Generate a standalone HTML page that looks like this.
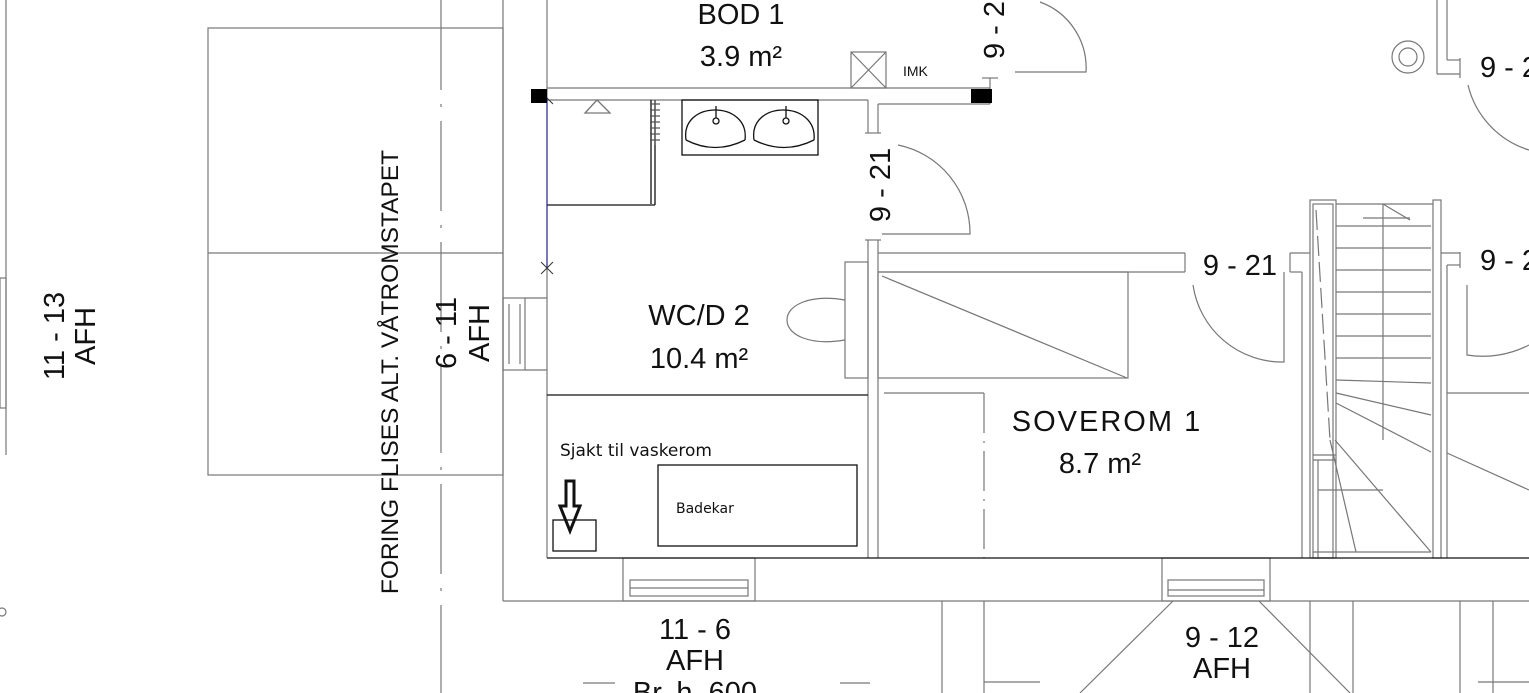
<!DOCTYPE html>
<html><head><meta charset="utf-8"><style>
html,body{margin:0;padding:0;background:#fff;width:1529px;height:693px;overflow:hidden}
svg{display:block}
text{font-family:"Liberation Sans",sans-serif;fill:#111}
</style></head><body>
<svg width="1529" height="693" viewBox="0 0 1529 693" xmlns="http://www.w3.org/2000/svg">
<g stroke="#777" stroke-width="1.2" fill="none">
<line x1="6" y1="0" x2="6" y2="455"/>
<rect x="0" y="278" width="6" height="130"/>
<circle cx="2" cy="612" r="4"/>
<rect x="208" y="28" width="295" height="447"/>
<line x1="208" y1="253" x2="503" y2="253"/>
<line x1="441" y1="0" x2="441" y2="693" stroke-dasharray="90,14,3,14"/>
<line x1="503" y1="0" x2="503" y2="601"/>
<line x1="503" y1="601" x2="1529" y2="601"/>
<line x1="547" y1="0" x2="547" y2="98"/>
<line x1="547" y1="268" x2="547" y2="558"/>
<rect x="503" y="298" width="22" height="72"/>
<line x1="509" y1="304" x2="509" y2="364"/><line x1="520" y1="304" x2="520" y2="364"/>
<line x1="525" y1="298" x2="547" y2="298"/><line x1="525" y1="370" x2="547" y2="370"/>
<line x1="547" y1="88" x2="990" y2="88"/>
<line x1="547" y1="100" x2="868" y2="100"/>
<line x1="878" y1="104" x2="990" y2="104"/>
<line x1="990" y1="78" x2="990" y2="104"/>
<line x1="982" y1="78" x2="998" y2="78"/>
<rect x="851" y="52" width="35" height="36"/>
<line x1="851" y1="52" x2="886" y2="88"/><line x1="886" y1="52" x2="851" y2="88"/>
<path d="M1015 72 L1086 72 A70 70 0 0 0 1040 2"/>
<line x1="868" y1="100" x2="868" y2="133"/><line x1="878" y1="104" x2="878" y2="133"/>
<line x1="865" y1="133" x2="881" y2="133"/>
<line x1="868" y1="240" x2="868" y2="558"/><line x1="878" y1="240" x2="878" y2="558"/>
<line x1="865" y1="240" x2="881" y2="240"/>
<path d="M882 234 L970 234 A90 90 0 0 0 898 145"/>
<line x1="878" y1="253" x2="1185" y2="253"/>
<line x1="878" y1="272" x2="1185" y2="272"/>
<line x1="1185" y1="253" x2="1185" y2="272"/>
<path d="M1284 272 L1284 362 A90 90 0 0 1 1193 285"/>
<line x1="1290" y1="253" x2="1290" y2="272"/>
<line x1="1290" y1="253" x2="1310" y2="253"/><line x1="1290" y1="272" x2="1302" y2="272"/>
<line x1="1302" y1="272" x2="1302" y2="558"/>
<rect x="878" y="272" width="250" height="106"/>
<line x1="882" y1="276" x2="1127" y2="378"/>
<line x1="884" y1="393" x2="984" y2="393"/>
<line x1="984" y1="393" x2="984" y2="558" stroke-dasharray="40,8,2,8"/>
<rect x="845" y="262" width="23" height="116"/>
<path d="M845 300 C810 294 787 305 787 320 C787 335 810 346 845 340"/>
<rect x="1310" y="200" width="26" height="358"/>
<rect x="1313" y="204" width="20" height="354"/>
<rect x="1433" y="200" width="8" height="358"/>
<line x1="1336" y1="204" x2="1433" y2="204"/>
<line x1="1383" y1="204" x2="1383" y2="440"/>
<line x1="1383" y1="204" x2="1410" y2="220"/><line x1="1363" y1="218" x2="1410" y2="218"/>
<line x1="1336" y1="226" x2="1431" y2="226"/>
<line x1="1336" y1="248" x2="1431" y2="248"/>
<line x1="1336" y1="270" x2="1431" y2="270"/>
<line x1="1336" y1="292" x2="1431" y2="292"/>
<line x1="1336" y1="314" x2="1431" y2="314"/>
<line x1="1336" y1="336" x2="1431" y2="336"/>
<line x1="1336" y1="358" x2="1431" y2="358"/>
<line x1="1336" y1="380" x2="1431" y2="383"/>
<line x1="1336" y1="393" x2="1431" y2="415"/>
<line x1="1336" y1="403" x2="1431" y2="452"/>
<line x1="1335" y1="440" x2="1431" y2="552"/>
<line x1="1330" y1="440" x2="1356" y2="552"/>
<line x1="1313" y1="455" x2="1336" y2="455"/>
<line x1="1313" y1="460" x2="1336" y2="460"/>
<line x1="1318" y1="460" x2="1318" y2="558"/>
<line x1="1318" y1="490" x2="1383" y2="490"/>
<line x1="1313" y1="552" x2="1431" y2="552"/>
<line x1="1316" y1="210" x2="1330" y2="440" stroke-dasharray="20,6"/>
<line x1="1437" y1="0" x2="1437" y2="74"/>
<line x1="1447" y1="0" x2="1447" y2="60"/>
<line x1="1437" y1="74" x2="1460" y2="74"/><line x1="1447" y1="60" x2="1460" y2="60"/>
<line x1="1460" y1="58" x2="1460" y2="78"/>
<path d="M1468 85 A90 90 0 0 0 1529 150"/>
<circle cx="1408" cy="57" r="16"/><circle cx="1408" cy="57" r="9"/>
<line x1="1441" y1="253" x2="1460" y2="253"/><line x1="1447" y1="265" x2="1460" y2="265"/>
<line x1="1460" y1="252" x2="1460" y2="268"/>
<line x1="1447" y1="265" x2="1447" y2="558"/>
<path d="M1467 285 L1467 355 A100 100 0 0 0 1529 345"/>
<line x1="1447" y1="393" x2="1529" y2="393"/>
<line x1="1447" y1="453" x2="1529" y2="490"/>
<rect x="623" y="558" width="132" height="43"/>
<rect x="630" y="580" width="118" height="16"/>
<line x1="630" y1="588" x2="748" y2="588"/>
<rect x="1162" y="558" width="108" height="43"/>
<rect x="1168" y="580" width="96" height="16"/>
<line x1="1168" y1="590" x2="1264" y2="590"/>
<line x1="1173" y1="601" x2="1080" y2="693"/>
<line x1="1259" y1="601" x2="1350" y2="693"/>
<line x1="942" y1="601" x2="942" y2="693"/><line x1="984" y1="601" x2="984" y2="693"/>
<line x1="984" y1="682" x2="1040" y2="682"/>
<line x1="1310" y1="601" x2="1310" y2="693"/><line x1="1353" y1="601" x2="1353" y2="693"/>
<line x1="1460" y1="601" x2="1460" y2="693"/><line x1="1493" y1="601" x2="1493" y2="693"/>
<line x1="1478" y1="682" x2="1529" y2="682"/>
<line x1="583" y1="683" x2="615" y2="683"/><line x1="840" y1="683" x2="870" y2="683"/>
</g>
<g stroke="#111" fill="none" stroke-width="1.3">
<line x1="547" y1="558" x2="1529" y2="558"/>
<line x1="547" y1="395" x2="868" y2="395"/>
<rect x="658" y="465" width="199" height="81"/>
<rect x="553" y="520" width="43" height="31"/>
<path d="M566 481 L574 481 L574 506 L580 506 L570 531 L560 506 L566 506 Z" stroke-width="3"/>
<line x1="547" y1="205" x2="655" y2="205"/>
<line x1="651" y1="100" x2="651" y2="204"/><line x1="655" y1="100" x2="655" y2="205"/>
<rect x="682" y="100" width="136" height="55"/>
<path d="M686 140 C680 100 750 100 745 140 M686 140 Q715 155 745 140"/>
<path d="M754 140 C748 100 818 100 814 140 M754 140 Q784 155 814 140"/>
<circle cx="716" cy="121" r="3"/><circle cx="786" cy="121" r="3"/>
<line x1="716" y1="106" x2="716" y2="118"/><line x1="786" y1="106" x2="786" y2="118"/>
<path d="M585 113 L597 100 L610 113 Z" stroke="#777"/>
<path d="M655 100 v45 M650 104 h10 M650 110 h10 M650 116 h10 M650 122 h10 M650 128 h10 M650 134 h10 M650 140 h10" stroke="#555"/>
</g>
<line x1="547" y1="98" x2="547" y2="268" stroke="#22228a" stroke-width="1.2"/>
<g stroke="#333" stroke-width="1"><line x1="541" y1="262" x2="553" y2="274"/><line x1="553" y1="262" x2="541" y2="274"/><line x1="541" y1="92" x2="553" y2="104"/></g>
<rect x="531" y="89" width="16" height="14" fill="#000"/>
<rect x="971" y="89" width="21" height="14" fill="#000"/>
<g font-size="29" text-anchor="middle">
<text x="741" y="24">BOD 1</text>
<text x="741" y="66">3.9 m²</text>
<text x="699" y="325">WC/D 2</text>
<text x="699" y="368">10.4 m²</text>
<text x="1107" y="431" letter-spacing="2">SOVEROM 1</text>
<text x="1100" y="473">8.7 m²</text>
<text x="695" y="639">11 - 6</text>
<text x="695" y="670">AFH</text>
<text x="695" y="702">Br. h. 600</text>
<text x="1222" y="647">9 - 12</text>
<text x="1222" y="678">AFH</text>
<text x="1240" y="275">9 - 21</text>
</g>
<text x="1480" y="77" font-size="29">9 - 2</text>
<text x="1480" y="270" font-size="29">9 - 2</text>
<g font-size="29" text-anchor="middle">
<text transform="translate(890,185) rotate(-90)">9 - 21</text>
<text transform="translate(1004,30) rotate(-90)">9 - 2</text>
<text transform="translate(64,336) rotate(-90)">11 - 13</text>
<text transform="translate(95,336) rotate(-90)">AFH</text>
<text transform="translate(456,333) rotate(-90)">6 - 11</text>
<text transform="translate(489,333) rotate(-90)">AFH</text>
</g>
<text transform="translate(398,372) rotate(-90)" font-size="24.5" text-anchor="middle">FORING FLISES ALT. VÅTROMSTAPET</text>
<text x="903" y="76" font-size="14">IMK</text>
<text x="560" y="456" font-size="17" style="font-family:'DejaVu Sans',sans-serif">Sjakt til vaskerom</text>
<text x="676" y="513" font-size="14" style="font-family:'DejaVu Sans',sans-serif">Badekar</text>
</svg>
</body></html>
